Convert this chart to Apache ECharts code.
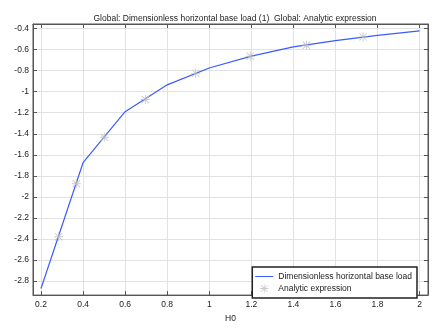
<!DOCTYPE html>
<html>
<head>
<meta charset="utf-8">
<script src="https://cdn.jsdelivr.net/npm/echarts@6/dist/echarts.min.js"></script>
<style>
  html, body { margin: 0; padding: 0; background: #fff; }
  #chart { width: 444px; height: 328px; }
</style>
</head>
<body>
<div id="chart"></div>
<script>
// line: Dimensionless horizontal base load
const lineX = [0.2, 0.4, 0.6, 0.8, 1.0, 1.2, 1.4, 1.6, 1.8, 2.0];
const lineY = [-2.87, -1.675, -1.19, -0.935, -0.775, -0.662, -0.575, -0.515, -0.465, -0.422];
// markers: Analytic expression
const markX = [0.284, 0.368, 0.501, 0.696, 0.935, 1.195, 1.462, 1.731];
const markY = [-2.378, -1.875, -1.433, -1.074, -0.826, -0.663, -0.559, -0.479];
// tick labels
const xTicks = [0.2, 0.4, 0.6, 0.8, 1, 1.2, 1.4, 1.6, 1.8, 2];
const yTicks = [-2.8, -2.6, -2.4, -2.2, -2, -1.8, -1.6, -1.4, -1.2, -1, -0.8, -0.6, -0.4];

const font = "Liberation Sans";
const frameColor = "#555";
const asterisk = "path://M4.5,0 L5.5,0 L5.5,10 L4.5,10 Z M0,4.5 L10,4.5 L10,5.5 L0,5.5 Z " +
  "M1.3,0.6 L9.4,8.7 L8.7,9.4 L0.6,1.3 Z M8.7,0.6 L9.4,1.3 L1.3,9.4 L0.6,8.7 Z";

const chart = echarts.init(document.getElementById("chart"));

const fmt = (v) => String(Number(v.toFixed(2)));

const option = {
  animation: false,
  title: {
    text: "Global: Dimensionless horizontal base load (1)  Global: Analytic expression",
    left: 230,
    textAlign: "center",
    top: 9,
    textStyle: { fontFamily: font, fontSize: 8.5, fontWeight: "normal", color: "#222" },
  },
  grid: {
    left: 33, right: 16, top: 24, bottom: 24,
    show: true, borderColor: frameColor, borderWidth: 1, backgroundColor: "#fff",
  },
  legend: {
    orient: "vertical",
    right: 27,
    bottom: 30,
    backgroundColor: "#fff",
    borderColor: "#222",
    borderWidth: 1.5,
    borderRadius: 0,
    padding: [5, 5, 5, 3],
    itemGap: 3,
    itemWidth: 18,
    itemHeight: 8,
    textStyle: { fontFamily: font, fontSize: 8.5, color: "#222" },
    data: [
      { name: "Dimensionless horizontal base load", icon: "path://M0,4.5 L18,4.5 L18,5.5 L0,5.5 Z" },
      { name: "Analytic expression", icon: asterisk },
    ],
  },
  xAxis: [
    {
      type: "value",
      min: 0.162, max: 2.04,
      name: "H0",
      nameLocation: "middle",
      nameGap: 14,
      nameTextStyle: { fontFamily: font, fontSize: 8.5, color: "#222" },
      axisLine: { show: true, lineStyle: { color: frameColor } },
      axisTick: { show: true, inside: true, length: 4, customValues: xTicks, lineStyle: { color: frameColor } },
      axisLabel: { customValues: xTicks, formatter: fmt, margin: 5, fontFamily: font, fontSize: 8.5, color: "#222" },
      splitLine: { show: true, lineStyle: { color: "#e2e2e2", width: 1 } },
    },
    {
      type: "value",
      position: "top",
      min: 0.162, max: 2.04,
      axisLine: { show: true, lineStyle: { color: frameColor } },
      axisTick: { show: true, inside: true, length: 4, customValues: xTicks, lineStyle: { color: frameColor } },
      axisLabel: { show: false },
      splitLine: { show: false },
    },
  ],
  yAxis: [
    {
      type: "value",
      min: -2.933, max: -0.357,
      axisLine: { show: true, lineStyle: { color: frameColor } },
      axisTick: { show: true, inside: true, length: 4, customValues: yTicks, lineStyle: { color: frameColor } },
      axisLabel: { customValues: yTicks, formatter: fmt, margin: 4, fontFamily: font, fontSize: 8.5, color: "#222" },
      splitLine: { show: true, lineStyle: { color: "#e2e2e2", width: 1 } },
    },
    {
      type: "value",
      position: "right",
      min: -2.933, max: -0.357,
      axisLine: { show: true, lineStyle: { color: frameColor } },
      axisTick: { show: true, inside: true, length: 4, customValues: yTicks, lineStyle: { color: frameColor } },
      axisLabel: { show: false },
      splitLine: { show: false },
    },
  ],
  series: [
    {
      name: "Dimensionless horizontal base load",
      type: "line",
      data: lineX.map((x, i) => [x, lineY[i]]),
      showSymbol: false,
      symbol: "none",
      color: "#3a5cff",
      lineStyle: { width: 1.2, color: "#3a5cff" },
      z: 2,
    },
    {
      name: "Analytic expression",
      type: "scatter",
      data: markX.map((x, i) => [x, markY[i]]),
      symbol: asterisk,
      symbolSize: 9,
      itemStyle: { color: "#bdbdbd" },
      z: 3,
    },
  ],
};

chart.setOption(option);
</script>
</body>
</html>
